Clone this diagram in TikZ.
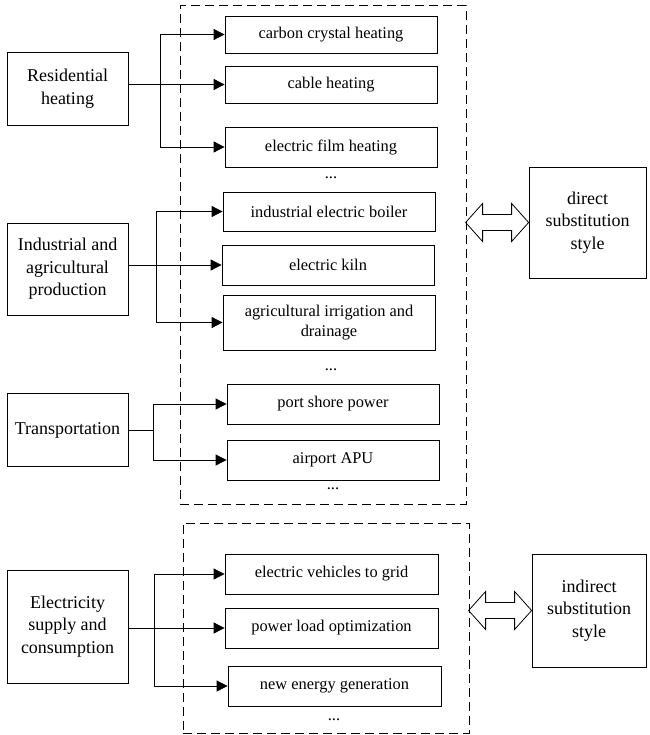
\documentclass[tikz,border=0pt]{standalone}
\usepackage{fontspec}
\setmainfont{Liberation Serif}
\usetikzlibrary{arrows.meta}

\begin{document}
\begin{tikzpicture}[x=1pt, y=-1pt, line width=0.8pt, >={Triangle[length=11pt,width=11pt]},
	every node/.style={align=center, inner sep=0pt},
	sector/.style={draw, minimum width=121pt, font=\fontsize{18}{22.5}\selectfont},
	usage/.style={draw, minimum width=212pt, minimum height=40pt, font=\fontsize{16.4}{20}\selectfont},
	dots/.style={font=\fontsize{16.4}{20}\selectfont},
	group/.style={draw, line width=1pt, dash pattern=on 9pt off 5pt},
	kind/.style={draw, font=\fontsize{18}{22.5}\selectfont}]
\useasboundingbox (0,0) rectangle (649,735);

% dashed groups
\node[group, minimum width=286pt, minimum height=498pt] (direct group) at (323,255) {};
\node[group, minimum width=286pt, minimum height=210pt] (indirect group) at (326,628) {};

% sectors
\node[sector, minimum height=73pt] (res) at (67.5,88.5) {Residential\\heating};
\node[sector, minimum height=92pt] (ind) at (67.5,269) {Industrial and\\agricultural\\production};
\node[sector, minimum height=73pt] (trans) at (67.5,430) {Transportation};
\node[sector, minimum height=113pt] (elec) at (67.5,626.5) {Electricity\\supply and\\consumption};

% usages
\node[usage, minimum height=37pt] (carbon) at (331,34.5) {carbon crystal heating};
\node[usage, minimum height=37pt] (cable) at (331,84.5) {cable heating};
\node[usage] (film) at (331,147) {electric film heating};
\node[dots] at (331,178) {...};
\node[usage, minimum height=39pt] (boiler) at (329,211.5) {industrial electric boiler};
\node[usage] (kiln) at (328,265) {electric kiln};
\node[usage, minimum height=55pt] (agri) at (329,322.5) {agricultural irrigation and\\drainage};
\node[dots] at (331,370) {...};
\node[usage] (port) at (333,404) {port shore power};
\node[usage] (apu) at (333,460) {airport APU};
\node[dots] at (333,489) {...};
\node[usage, minimum width=213pt] (v2g) at (331.5,574) {electric vehicles to grid};
\node[usage, minimum width=213pt] (load) at (331.5,628) {power load optimization};
\node[usage, minimum width=213pt] (newgen) at (334.5,686) {new energy generation};
\node[dots] at (334,720) {...};

% styles
\node[kind, minimum width=117pt, minimum height=111pt] (direct) at (587.5,222.5) {direct\\substitution\\style};
\node[kind, minimum width=114pt, minimum height=113pt] (indirect) at (589,610.5) {indirect\\substitution\\style};

% connectors
\coordinate (rb) at (160,0);
\coordinate (ib) at (156,0);
\coordinate (tb) at (153,0);
\coordinate (eb) at (154,0);
\draw[->] (res.east |- cable.west) -- (cable.west);
\draw[<->] (carbon.west) -- (rb |- carbon.west) -- (rb |- film.west) -- (film.west);
\draw[->] (ind.east |- kiln.west) -- (kiln.west);
\draw[<->] (boiler.west) -- (ib |- boiler.west) -- (ib |- agri.west) -- (agri.west);
\draw (trans.east) -- (tb |- trans.east);
\draw[<->] (port.west) -- (tb |- port.west) -- (tb |- apu.west) -- (apu.west);
\draw[->] (elec.east |- load.west) -- (load.west);
\draw[<->] (v2g.west) -- (eb |- v2g.west) -- (eb |- newgen.west) -- (newgen.west);

% hollow double arrows
\draw (direct.west) -- ++(-17,-19) -- ++(0,11) -- ++(-29,0) -- ++(0,-11) -- ++(-17,19)
	-- ++(17,19) -- ++(0,-11) -- ++(29,0) -- ++(0,11) -- cycle;
\draw (indirect.west) -- ++(-17,-19) -- ++(0,11) -- ++(-29,0) -- ++(0,-11) -- ++(-17,19)
	-- ++(17,19) -- ++(0,-11) -- ++(29,0) -- ++(0,11) -- cycle;
\end{tikzpicture}
\end{document}
